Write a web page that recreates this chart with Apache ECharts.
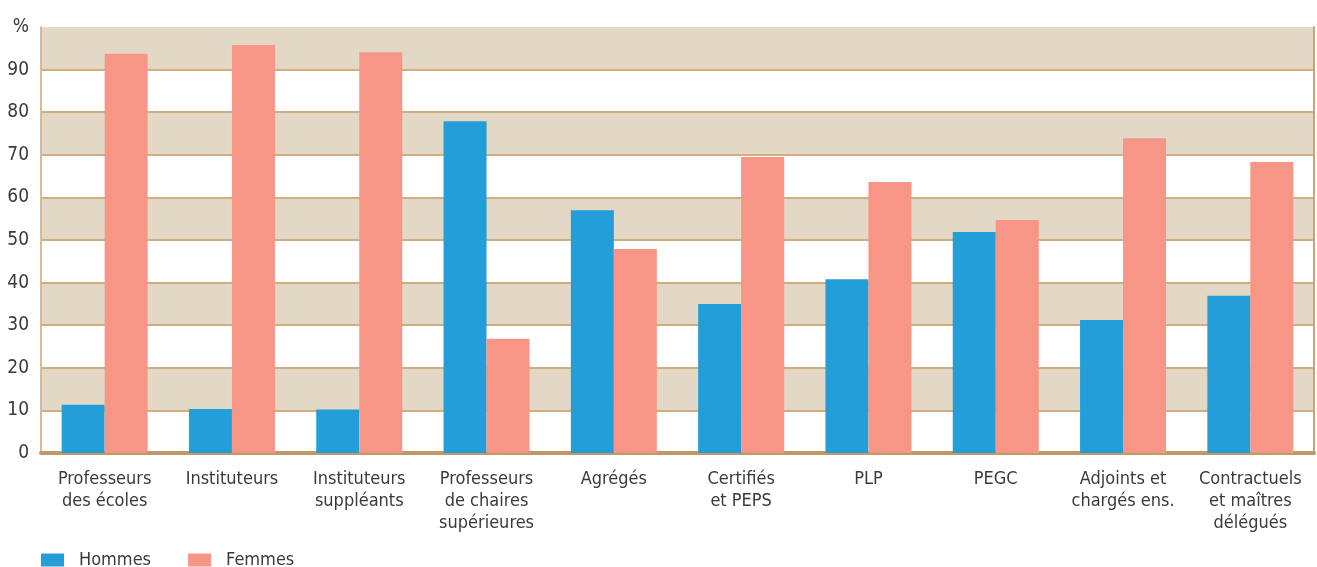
<!DOCTYPE html>
<html>
<head>
<meta charset="utf-8">
<script src="https://cdn.jsdelivr.net/npm/echarts@6/dist/echarts.min.js"></script>
<style>
  html, body { margin: 0; padding: 0; background: #fff; }
  #chart { width: 1317px; height: 567px; }
</style>
</head>
<body>
<div id="chart"></div>
<script>
// categories (x axis)
const categories = [
  "Professeurs\ndes écoles",
  "Instituteurs",
  "Instituteurs\nsuppléants",
  "Professeurs\nde chaires\nsupérieures",
  "Agrégés",
  "Certifiés\net PEPS",
  "PLP",
  "PEGC",
  "Adjoints et\nchargés ens.",
  "Contractuels\net maîtres\ndélégués"
];
// shares in %
const hommes = [11.3, 10.3, 10.2, 77.9, 57.0, 35.0, 40.8, 51.9, 31.2, 36.9];
const femmes = [93.7, 95.8, 94.1, 26.8, 47.9, 69.5, 63.6, 54.7, 73.9, 68.3];

const font = '"Liberation Sans Narrow", "DejaVu Sans Condensed", "Roboto", sans-serif';
const textColor = "#3a3a3a";

const chart = echarts.init(document.getElementById("chart"));
const option = {
  animation: false,
  textStyle: { fontFamily: font },
  grid: { left: 41, right: 3, top: 27, bottom: 114 },
  legend: {
    left: 41,
    top: 551,
    padding: 0,
    itemWidth: 23,
    itemHeight: 13,
    itemGap: 37,
    icon: "rect",
    textStyle: { fontFamily: font, fontSize: 18, color: textColor, padding: [2, 0, 0, 10] },
    data: ["Hommes", "Femmes"]
  },
  xAxis: {
    type: "category",
    data: categories,
    axisLine: { show: true, lineStyle: { color: "#C09A64", width: 4 } },
    axisTick: { show: false },
    axisLabel: {
      interval: 0,
      margin: 15,
      fontFamily: font,
      fontSize: 18,
      lineHeight: 22,
      color: textColor
    }
  },
  yAxis: [
    {
      type: "value",
      min: 0,
      max: 100,
      interval: 10,
      axisLine: { show: true, lineStyle: { color: "#D6BC94", width: 2 } },
      axisTick: { show: false },
      axisLabel: {
        margin: 12,
        fontFamily: font,
        fontSize: 19,
        color: textColor,
        padding: [0, 0, 12, 0],
        formatter: v => (v === 100 ? "%" : v)
      },
      splitLine: {
        show: true,
        showMaxLine: false,
        lineStyle: { color: "#D0AE7E", width: 2 }
      },
      splitArea: {
        show: true,
        areaStyle: { color: ["#ffffff", "#E3D8C5"] }
      }
    },
    {
      type: "value",
      min: 0,
      max: 100,
      interval: 10,
      position: "right",
      axisLine: { show: true, lineStyle: { color: "#C8A57A", width: 2 } },
      axisTick: { show: false },
      axisLabel: { show: false },
      splitLine: { show: false }
    }
  ],
  series: [
    {
      name: "Hommes",
      type: "bar",
      data: hommes,
      barWidth: 43,
      barGap: "0%",
      itemStyle: { color: "#249ED8" }
    },
    {
      name: "Femmes",
      type: "bar",
      data: femmes,
      barWidth: 43,
      itemStyle: { color: "#F79686" }
    }
  ]
};
chart.setOption(option);
window.addEventListener("resize", chart.resize);
</script>
</body>
</html>
